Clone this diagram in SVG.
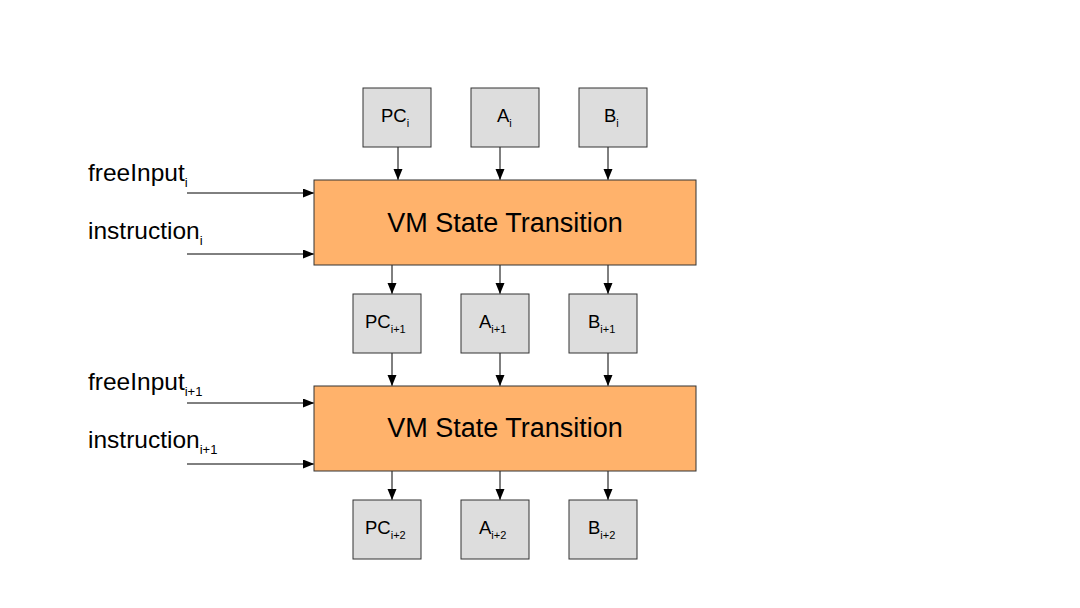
<svg xmlns="http://www.w3.org/2000/svg" width="1080" height="608" viewBox="0 0 1080 608">
<defs>
<marker id="ah" markerWidth="10" markerHeight="10" refX="11" refY="4.5" orient="auto" markerUnits="userSpaceOnUse">
<path d="M0,0 L11,4.5 L0,9 Z" fill="#000"/>
</marker>
<style>
.reg{fill:#dddddd;stroke:#333333;stroke-width:1}
.vm{fill:#ffb26b;stroke:#333333;stroke-width:1}
.lbl{font-family:"Liberation Sans",Arial,sans-serif;fill:#000}
.rl{font-size:18.5px}
.sub{font-size:11px}
.sub2{font-size:13px}
.il{font-size:24.5px}
.vml{font-size:27px}
.con line{stroke:#000;stroke-width:1;marker-end:url(#ah)}
</style>
</defs>
<rect width="1080" height="608" fill="#fff"/>
<g id="connectors" class="con">
<line x1="398" y1="147" x2="398" y2="180"/>
<line x1="500" y1="147" x2="500" y2="180"/>
<line x1="608" y1="147" x2="608" y2="180"/>
<line x1="187" y1="193" x2="314" y2="193"/>
<line x1="187" y1="254" x2="314" y2="254"/>
<line x1="392" y1="265" x2="392" y2="294"/>
<line x1="500" y1="265" x2="500" y2="294"/>
<line x1="608" y1="265" x2="608" y2="294"/>
<line x1="392" y1="353" x2="392" y2="386"/>
<line x1="500" y1="353" x2="500" y2="386"/>
<line x1="608" y1="353" x2="608" y2="386"/>
<line x1="187" y1="403" x2="314" y2="403"/>
<line x1="187" y1="464" x2="314" y2="464"/>
<line x1="392" y1="471" x2="392" y2="500"/>
<line x1="500" y1="471" x2="500" y2="500"/>
<line x1="608" y1="471" x2="608" y2="500"/>
</g>
<g id="pc-i"><rect class="reg" x="363" y="88" width="68" height="59"/><text class="lbl rl" x="381" y="122">PC<tspan class="sub" dy="5">i</tspan></text></g>
<g id="a-i"><rect class="reg" x="471" y="88" width="68" height="59"/><text class="lbl rl" x="497" y="122">A<tspan class="sub" dy="5">i</tspan></text></g>
<g id="b-i"><rect class="reg" x="579" y="88" width="68" height="59"/><text class="lbl rl" x="604" y="122">B<tspan class="sub" dy="5">i</tspan></text></g>
<g id="vm1"><rect class="vm" x="314" y="180" width="382" height="85"/><text class="lbl vml" x="505" y="232" text-anchor="middle">VM State Transition</text></g>
<g id="freeinput-i"><text class="lbl il" x="88" y="181">freeInput<tspan class="sub2" dy="6">i</tspan></text></g>
<g id="instruction-i"><text class="lbl il" x="88" y="239">instruction<tspan class="sub2" dy="6">i</tspan></text></g>
<g id="pc-i1"><rect class="reg" x="353" y="294" width="68" height="59"/><text class="lbl rl" x="365" y="328">PC<tspan class="sub" dy="5">i+1</tspan></text></g>
<g id="a-i1"><rect class="reg" x="461" y="294" width="68" height="59"/><text class="lbl rl" x="479" y="328">A<tspan class="sub" dy="5">i+1</tspan></text></g>
<g id="b-i1"><rect class="reg" x="569" y="294" width="68" height="59"/><text class="lbl rl" x="588" y="328">B<tspan class="sub" dy="5">i+1</tspan></text></g>
<g id="vm2"><rect class="vm" x="314" y="386" width="382" height="85"/><text class="lbl vml" x="505" y="437" text-anchor="middle">VM State Transition</text></g>
<g id="freeinput-i1"><text class="lbl il" x="88" y="390">freeInput<tspan class="sub2" dy="6">i+1</tspan></text></g>
<g id="instruction-i1"><text class="lbl il" x="88" y="448">instruction<tspan class="sub2" dy="6">i+1</tspan></text></g>
<g id="pc-i2"><rect class="reg" x="353" y="500" width="68" height="59"/><text class="lbl rl" x="365" y="534">PC<tspan class="sub" dy="5">i+2</tspan></text></g>
<g id="a-i2"><rect class="reg" x="461" y="500" width="68" height="59"/><text class="lbl rl" x="479" y="534">A<tspan class="sub" dy="5">i+2</tspan></text></g>
<g id="b-i2"><rect class="reg" x="569" y="500" width="68" height="59"/><text class="lbl rl" x="588" y="534">B<tspan class="sub" dy="5">i+2</tspan></text></g>
</svg>
